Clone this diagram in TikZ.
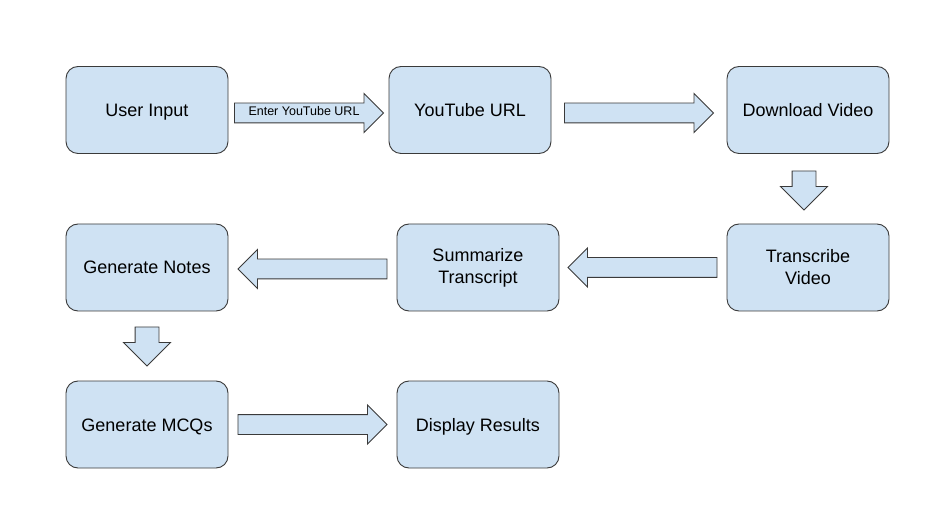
\documentclass[tikz,border=0pt]{standalone}
\usepackage{fontspec}
\setmainfont{Liberation Sans}
\usetikzlibrary{shapes.arrows}
\definecolor{boxblue}{HTML}{CFE2F3}
\definecolor{boxline}{HTML}{3A3A3A}
\tikzset{
  box/.style={draw=boxline, fill=boxblue, line width=0.9pt, rounded corners=12pt,
    minimum width=162pt, minimum height=87pt, align=center,
    font=\fontsize{18}{22}\selectfont},
  oneline/.style={text height=13pt, text depth=0pt},
  blockarrow/.style={single arrow, draw=boxline, fill=boxblue, line width=0.9pt,
    single arrow head extend=9.5pt, inner xsep=0pt, inner ysep=9.5pt,
    text height=0pt, text depth=0pt, minimum height=149pt},
  downarrow/.style={blockarrow, shape border rotate=270, inner ysep=0pt,
    inner xsep=11.5pt, text width=0pt, single arrow head extend=11.5pt,
    minimum height=39pt}
}
\begin{document}
\begin{tikzpicture}[x=1pt,y=-1pt]
  \useasboundingbox (0,0) rectangle (940,521);
  % boxes
  \node[box, oneline] (input) at (147,110) {User Input};
  \node[box, oneline] (url) at (470,110) {YouTube URL};
  \node[box, oneline] (download) at (808,110) {Download Video};
  \node[box] (transcribe) at (808,267.5) {Transcribe\\Video};
  \node[box] (summarize) at (478,267.5) {Summarize\\Transcript};
  \node[box, oneline] (notes) at (147,267.5) {Generate Notes};
  \node[box, oneline] (mcqs) at (147,424.5) {Generate MCQs};
  \node[box, oneline] (results) at (478,424.5) {Display Results};
  % block arrows
  \node[blockarrow, inner ysep=3.5pt, text height=9pt, text depth=3pt,
    font=\fontsize{12.5}{14}\selectfont] (enter) at (304,113) {Enter YouTube URL};
  \node[blockarrow] (fetch) at (634,113) {};
  \node[downarrow] (todl) at (804,184.5) {};
  \node[blockarrow, shape border rotate=180] (tosum) at (647.5,267.5) {};
  \node[blockarrow, shape border rotate=180] (tonotes) at (317.5,269) {};
  \node[downarrow] (tomcq) at (147,340.5) {};
  \node[blockarrow] (toresults) at (307.5,424.5) {};
\end{tikzpicture}
\end{document}
